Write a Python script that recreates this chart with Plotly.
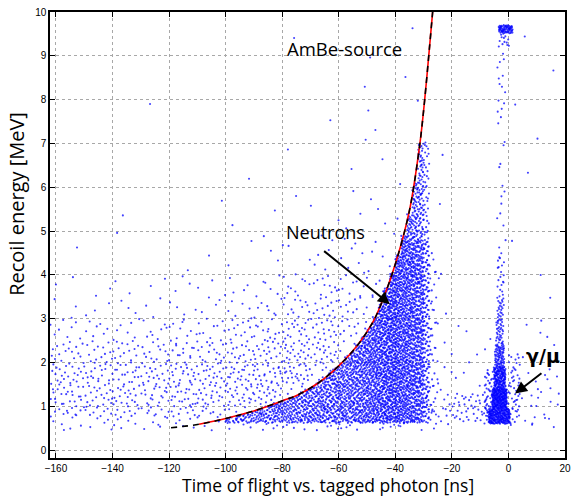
import plotly.graph_objects as go

# ---------------- data ----------------
# kinematic curve (time of flight [ns], recoil energy [MeV])
curve_t = [-119.3, -109.4, -100.0, -90.7, -79.7, -74.5, -67.5, -59.9, -53.5,
           -47.7, -44.0, -39.5, -34.9, -31.4, -29.7, -27.9, -26.8]
curve_e = [0.51, 0.59, 0.72, 0.88, 1.13, 1.26, 1.52, 1.93, 2.38,
           2.95, 3.50, 4.35, 5.50, 6.95, 7.94, 9.20, 10.0]

# neutron band: 2 ns wide columns (left edge), band top and number of events
band_left = [-100, -98, -96, -94, -92, -90, -88, -86, -84, -82, -80, -78,
             -76, -74, -72, -70, -68, -66, -64, -62, -60, -58, -56, -54,
             -52, -50, -48, -46, -44, -42, -40, -38, -36, -34, -32, -30]
band_top = [0.73, 0.76, 0.80, 0.83, 0.87, 0.91, 0.95, 1.00, 1.05, 1.10, 1.15, 1.20,
            1.25, 1.32, 1.40, 1.48, 1.57, 1.67, 1.77, 1.88, 1.99, 2.12, 2.26, 2.42,
            2.60, 2.80, 3.05, 3.35, 3.70, 4.05, 4.45, 4.90, 4.80, 4.80, 4.80, 4.80]
band_n = [5, 6, 8, 9, 12, 14, 16, 18, 21, 24, 27, 29,
          32, 36, 40, 45, 50, 56, 62, 68, 76, 85, 96, 110,
          126, 145, 168, 205, 240, 275, 300, 315, 300, 290, 270, 150]
band_bottom = 0.62

# upper plume of the neutron band
plume_left = [-36, -34, -32, -30]
plume_top = [5.4, 6.1, 7.0, 7.1]
plume_n = [30, 60, 85, 36]

# diffuse background: counts per cell
bg_x_edges = [-162, -150, -140, -130, -120, -110, -100, -90, -80, -70, -60, -50, -40, -30, -20]
bg_y_edges = [0.45, 0.75, 1.0, 1.5, 2.0, 2.5, 3.0, 3.5, 4.0, 5.0, 6.0, 8.0, 10.0]
bg_counts = [
    [6, 5, 5, 5, 5, 5, 5, 6, 8, 9, 9, 9, 7, 4],
    [11, 9, 9, 9, 9, 9, 6, 4, 2, 2, 2, 2, 3, 10],
    [24, 20, 20, 20, 22, 22, 24, 26, 8, 2, 2, 2, 3, 8],
    [24, 20, 20, 20, 22, 22, 24, 26, 28, 10, 2, 2, 2, 5],
    [16, 14, 14, 14, 16, 16, 18, 20, 24, 22, 8, 2, 2, 4],
    [8, 7, 7, 8, 9, 10, 12, 14, 18, 18, 12, 3, 2, 3],
    [3, 3, 3, 3, 4, 4, 6, 8, 12, 14, 12, 5, 2, 2],
    [2, 2, 2, 2, 3, 3, 4, 6, 9, 10, 10, 6, 2, 2],
    [1, 0, 1, 0, 1, 1, 2, 3, 5, 6, 8, 6, 3, 2],
    [0, 0, 1, 0, 0, 1, 1, 1, 1, 2, 3, 3, 2, 1],
    [0, 0, 0, 1, 0, 0, 1, 0, 1, 1, 2, 3, 2, 1],
    [0, 0, 0, 0, 0, 0, 0, 0, 1, 0, 1, 1, 2, 0],
]

# gamma / muon peak and other regions: (x0, x1, y0, y1, count)
spot_x0 = [-28.5, -20, -8.5, -7.0, -5.8, -5.2, -4.8, -4.4, -4.0, -4.0, -4.0, -4.0, -4.0, -3.5, -3.5, 0.0, -20, 0.0, 5.0, 0.0]
spot_x1 = [-25.5, -7, -5.5, 0.5, -0.5, -1.0, -1.5, -1.8, -1.6, -1.5, -1.0, -1.0, -1.0, 0.5, 1.5, 4.0, -5.0, 18.0, 18.0, 18.0]
spot_y0 = [0.6, 0.65, 0.6, 0.6, 0.95, 1.4, 1.9, 2.4, 3.0, 3.5, 4.5, 6.0, 7.5, 9.2, 9.52, 0.6, 1.4, 0.5, 0.5, 3.0]
spot_y1 = [4.5, 1.3, 1.8, 0.95, 1.4, 1.9, 2.4, 3.0, 3.5, 4.5, 6.0, 7.5, 9.2, 9.52, 9.7, 2.2, 3.0, 1.8, 3.0, 10.0]
spot_n = [40, 45, 45, 230, 250, 160, 75, 40, 22, 20, 8, 6, 14, 14, 65, 45, 10, 25, 15, 8]

# ---------------- build event cloud (deterministic low-discrepancy fill) ----------------
def halton(i, b):
    f, r = 1.0, 0.0
    while i > 0:
        f /= b
        r += f * (i % b)
        i //= b
    return r

xs, ys = [], []
counter = [0]

def fill(x0, x1, y0, y1, n):
    for _ in range(int(n)):
        counter[0] += 1
        k = counter[0]
        xs.append(x0 + (x1 - x0) * halton(k, 2))
        ys.append(y0 + (y1 - y0) * halton(k, 3))

for xl, top, n in zip(band_left, band_top, band_n):
    fill(xl, xl + 2, band_bottom, top, n)
for xl, top, n in zip(plume_left, plume_top, plume_n):
    fill(xl, xl + 2, 4.8, top, n)
for iy, row in enumerate(bg_counts):
    for ix, n in enumerate(row):
        fill(bg_x_edges[ix], bg_x_edges[ix + 1], bg_y_edges[iy], bg_y_edges[iy + 1], n)
for a, b, c, d, n in zip(spot_x0, spot_x1, spot_y0, spot_y1, spot_n):
    fill(a, b, c, d, n)

fig = go.Figure()
fig.add_trace(go.Scatter(x=xs, y=ys, mode="markers",
                         marker=dict(size=2.1, color="#0000ff", opacity=0.75, line=dict(width=0)),
                         hoverinfo="skip", showlegend=False))
fig.add_trace(go.Scatter(x=curve_t[1:], y=curve_e[1:], mode="lines", line_shape="spline",
                         line=dict(color="#ff0000", width=1.6), hoverinfo="skip", showlegend=False))
fig.add_trace(go.Scatter(x=curve_t, y=curve_e, mode="lines", line_shape="spline",
                         line=dict(color="#000000", width=1.6, dash="6px,5px"),
                         hoverinfo="skip", showlegend=False))

font_txt = "Open Sans, DejaVu Sans, sans-serif"
annotations = [
    dict(x=-57.9, y=9.17, xref="x", yref="y", text="AmBe-source", showarrow=False,
         font=dict(family=font_txt, size=18.5, color="black")),
    dict(x=-64.7, y=4.97, xref="x", yref="y", text="Neutrons", showarrow=False,
         font=dict(family=font_txt, size=18, color="black")),
    dict(x=-41.9, y=3.33, ax=-65.7, ay=4.57, xref="x", yref="y", axref="x", ayref="y",
         text="", showarrow=True, arrowhead=2, arrowsize=1.2, arrowwidth=2, arrowcolor="black"),
    dict(x=12.1, y=2.15, xref="x", yref="y", text="<b>γ/μ</b>", showarrow=False,
         font=dict(family="DejaVu Sans", size=19, color="black")),
    dict(x=2.34, y=1.29, ax=12.2, ay=1.78, xref="x", yref="y", axref="x", ayref="y",
         text="", showarrow=True, arrowhead=2, arrowsize=1.2, arrowwidth=2, arrowcolor="black"),
    dict(x=0.539, y=-0.0613, xref="paper", yref="paper", text="Time of flight vs. tagged photon [ns]",
         showarrow=False, xanchor="center", yanchor="middle",
         font=dict(family=font_txt, size=17.5, color="black")),
    dict(x=-0.064, y=0.57, xref="paper", yref="paper", text="Recoil energy [MeV]", textangle=-90,
         showarrow=False, xanchor="center", yanchor="middle",
         font=dict(family=font_txt, size=20, color="black")),
]

axis_common = dict(showline=True, linecolor="black", linewidth=1.5, mirror="ticks",
                   ticks="inside", ticklen=5, tickwidth=1.2, tickcolor="black",
                   showgrid=True, gridcolor="#a8a8a8", griddash="dot", gridwidth=1,
                   zeroline=False,
                   tickfont=dict(family="Liberation Sans, Arial, sans-serif", size=10, color="black"))

fig.update_layout(
    width=577, height=496,
    margin=dict(l=50, r=6, t=9, b=38),
    paper_bgcolor="white", plot_bgcolor="white",
    xaxis=dict(range=[-162.1, 20], tickmode="array",
               tickvals=[-160, -140, -120, -100, -80, -60, -40, -20, 0, 20], **axis_common),
    yaxis=dict(range=[-0.18, 10], tickmode="array",
               tickvals=[0, 1, 2, 3, 4, 5, 6, 7, 8, 9, 10], **axis_common),
    annotations=annotations,
)

fig.write_html("out.html", config={"displayModeBar": False},
               post_script="document.body.style.margin='0';document.body.style.overflow='hidden';")
